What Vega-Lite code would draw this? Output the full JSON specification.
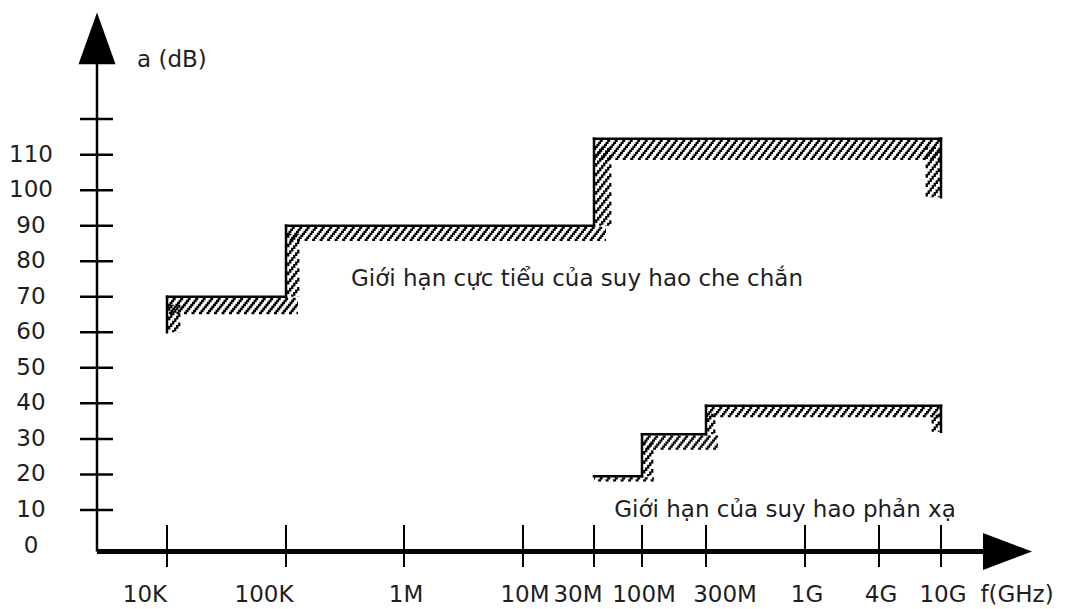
{
"$schema":"https://vega.github.io/schema/vega-lite/v6.json",
"width":935,"height":533,
"autosize":{"type":"none"},
"padding":{"left":97,"top":12.5,"right":33,"bottom":63.5},
"background":"#ffffff",
"config":{"view":{"stroke":null},"mark":{"color":"#000"},"text":{"font":"DejaVu Sans","fontSize":23,"color":"#1e1e1e"},
"style":{"hh":{"stroke":"#000","strokeWidth":2.3,"strokeDash":[3,4.5]},"hv":{"stroke":"#000","strokeWidth":2.3,"strokeDash":[3.75,5.6]}}},
"datasets":{
"seg":[
{"c":"s","x":1e4,"y":60,"x2":1e4,"y2":70},
{"c":"s","x":1e4,"y":70,"x2":1e5,"y2":70},
{"c":"s","x":1e5,"y":70,"x2":1e5,"y2":90},
{"c":"s","x":1e5,"y":90,"x2":3e7,"y2":90},
{"c":"s","x":3e7,"y":90,"x2":3e7,"y2":114.5},
{"c":"s","x":3e7,"y":114.5,"x2":1e10,"y2":114.5},
{"c":"s","x":1e10,"y":98,"x2":1e10,"y2":114.5},
{"c":"r","x":3e7,"y":19.5,"x2":1e8,"y2":19.5},
{"c":"r","x":1e8,"y":19.5,"x2":1e8,"y2":31.3},
{"c":"r","x":1e8,"y":31.3,"x2":3e8,"y2":31.3},
{"c":"r","x":3e8,"y":31.3,"x2":3e8,"y2":39.3},
{"c":"r","x":3e8,"y":39.3,"x2":1e10,"y2":39.3},
{"c":"r","x":1e10,"y":32,"x2":1e10,"y2":39.3}
],
"yt":[{"v":0,"label":"0"},{"v":10,"label":"10"},{"v":20,"label":"20"},{"v":30,"label":"30"},{"v":40,"label":"40"},{"v":50,"label":"50"},{"v":60,"label":"60"},{"v":70,"label":"70"},{"v":80,"label":"80"},{"v":90,"label":"90"},{"v":100,"label":"100"},{"v":110,"label":"110"},{"v":120,"label":""}],
"xt":[{"f":1e4,"label":"10K"},{"f":1e5,"label":"100K"},{"f":1e6,"label":"1M"},{"f":1e7,"label":"10M"},{"f":3e7,"label":"30M"},{"f":1e8,"label":"100M"},{"f":3e8,"label":"300M"},{"f":1e9,"label":"1G"},{"f":4e9,"label":"4G"},{"f":1e10,"label":"10G"}]
},
"layer":[
{"data":{"values":[{}]},"mark":{"type":"rule","strokeWidth":5,"yOffset":6},
 "encoding":{"x":{"datum":0,"type":"quantitative","scale":{"domain":[0,1e4,1e5,1e6,1e7,3e7,1e8,3e8,1e9,4e9,1e10,2e10],"range":[0,70,189,307,426,497,545,609,708,782,844,935],"nice":false,"zero":false},"axis":null},"x2":{"datum":1.9e10},"y":{"datum":0,"type":"quantitative","scale":{"domain":[0,150],"nice":false,"zero":false},"axis":null}}},
{"data":{"values":[{}]},"mark":{"type":"rule","strokeWidth":2.5,"yOffset":6},
 "encoding":{"x":{"datum":0,"type":"quantitative","axis":null},"y":{"datum":0,"type":"quantitative","axis":null},"y2":{"datum":140}}},
{"data":{"values":[{}]},"mark":{"type":"point","shape":"M0,0L-2.65,-1L-2.65,1Z","size":1369,"filled":true,"opacity":1,"strokeWidth":0,"yOffset":6},
 "encoding":{"x":{"datum":2e10,"type":"quantitative","axis":null},"y":{"datum":0,"type":"quantitative","axis":null}}},
{"data":{"values":[{}]},"mark":{"type":"point","shape":"M0,0L-1,2.8L1,2.8Z","size":1369,"filled":true,"opacity":1,"strokeWidth":0},
 "encoding":{"x":{"datum":0,"type":"quantitative","axis":null},"y":{"datum":150,"type":"quantitative","axis":null}}},
{"data":{"name":"yt"},"transform":[{"filter":"datum.v>0"}],"mark":{"type":"rule","strokeWidth":2.5,"xOffset":-17,"x2Offset":16},
 "encoding":{"x":{"datum":0,"type":"quantitative","axis":null},"x2":{"datum":0},"y":{"field":"v","type":"quantitative","axis":null}}},
{"data":{"name":"yt"},"transform":[{"filter":"datum.label!=''"}],"mark":{"type":"text","dx":-66,"align":"center","baseline":"middle"},
 "encoding":{"x":{"datum":0,"type":"quantitative","axis":null},"y":{"field":"v","type":"quantitative","axis":null},"text":{"field":"label"}}},
{"data":{"name":"xt"},"mark":{"type":"rule","strokeWidth":2,"yOffset":21.5,"y2Offset":-20.5},
 "encoding":{"x":{"field":"f","type":"quantitative","axis":null},"y":{"datum":0,"type":"quantitative","axis":null},"y2":{"datum":0}}},
{"data":{"name":"xt"},"transform":[{"filter":"datum.label=='10K'||datum.label=='100K'"}],"mark":{"type":"text","dx":-22,"dy":49,"align":"center","baseline":"middle"},
 "encoding":{"x":{"field":"f","type":"quantitative","axis":null},"y":{"datum":0,"type":"quantitative","axis":null},"text":{"field":"label"}}},
{"data":{"name":"xt"},"transform":[{"filter":"datum.label=='30M'"}],"mark":{"type":"text","dx":-16,"dy":49,"align":"center","baseline":"middle"},
 "encoding":{"x":{"field":"f","type":"quantitative","axis":null},"y":{"datum":0,"type":"quantitative","axis":null},"text":{"field":"label"}}},
{"data":{"name":"xt"},"transform":[{"filter":"datum.label=='300M'"}],"mark":{"type":"text","dx":19,"dy":49,"align":"center","baseline":"middle"},
 "encoding":{"x":{"field":"f","type":"quantitative","axis":null},"y":{"datum":0,"type":"quantitative","axis":null},"text":{"field":"label"}}},
{"data":{"name":"xt"},"transform":[{"filter":"datum.label!='10K'&&datum.label!='100K'&&datum.label!='30M'&&datum.label!='300M'"}],"mark":{"type":"text","dx":2,"dy":49,"align":"center","baseline":"middle"},
 "encoding":{"x":{"field":"f","type":"quantitative","axis":null},"y":{"datum":0,"type":"quantitative","axis":null},"text":{"field":"label"}}},
{"data":{"values":[{}]},"mark":{"type":"text","text":"f(GHz)","dx":-15,"dy":49,"align":"center","baseline":"middle"},
 "encoding":{"x":{"datum":2e10,"type":"quantitative","axis":null},"y":{"datum":0,"type":"quantitative","axis":null}}},
{"data":{"values":[{}]},"mark":{"type":"text","text":"a (dB)","dx":40,"align":"left","baseline":"alphabetic"},
 "encoding":{"x":{"datum":0,"type":"quantitative","axis":null},"y":{"datum":134.7,"type":"quantitative","axis":null}}},
{"data":{"values":[{}]},"mark":{"type":"text","text":"Giới hạn cực tiểu của suy hao che chắn","dx":173,"align":"center","baseline":"alphabetic"},
 "encoding":{"x":{"datum":1e6,"type":"quantitative","axis":null},"y":{"datum":73,"type":"quantitative","axis":null}}},
{"data":{"values":[{}]},"mark":{"type":"text","text":"Giới hạn của suy hao phản xạ","dx":-20,"align":"center","baseline":"alphabetic"},
 "encoding":{"x":{"datum":1e9,"type":"quantitative","axis":null},"y":{"datum":8,"type":"quantitative","axis":null}}},
{"data":{"name":"seg"},
 "encoding":{"x":{"field":"x","type":"quantitative","axis":null},"x2":{"field":"x2"},"y":{"field":"y","type":"quantitative","axis":null},"y2":{"field":"y2"}},
 "layer":[
 {"transform":[{"filter":"datum.y==datum.y2&&datum.x2<1e10&&(datum.c=='s'?(datum.y<80?8:7):(datum.y<25?2:7))>0"}],"mark":{"type":"rule","style":"hh","yOffset":2.25,"y2Offset":2.25,"x2Offset":12,"strokeDashOffset":1.8}},
 {"transform":[{"filter":"datum.y==datum.y2&&datum.x2<1e10&&(datum.c=='s'?(datum.y<80?8:7):(datum.y<25?2:7))>1"}],"mark":{"type":"rule","style":"hh","yOffset":4.25,"y2Offset":4.25,"x2Offset":12,"strokeDashOffset":3.4}},
 {"transform":[{"filter":"datum.y==datum.y2&&datum.x2<1e10&&(datum.c=='s'?(datum.y<80?8:7):(datum.y<25?2:7))>2"}],"mark":{"type":"rule","style":"hh","yOffset":6.25,"y2Offset":6.25,"x2Offset":12,"strokeDashOffset":5}},
 {"transform":[{"filter":"datum.y==datum.y2&&datum.x2<1e10&&(datum.c=='s'?(datum.y<80?8:7):(datum.y<25?2:7))>3"}],"mark":{"type":"rule","style":"hh","yOffset":8.25,"y2Offset":8.25,"x2Offset":12,"strokeDashOffset":6.6}},
 {"transform":[{"filter":"datum.y==datum.y2&&datum.x2<1e10&&(datum.c=='s'?(datum.y<80?8:7):(datum.y<25?2:7))>4"}],"mark":{"type":"rule","style":"hh","yOffset":10.25,"y2Offset":10.25,"x2Offset":12,"strokeDashOffset":8.2}},
 {"transform":[{"filter":"datum.y==datum.y2&&datum.x2<1e10&&(datum.c=='s'?(datum.y<80?8:7):(datum.y<25?2:7))>5"}],"mark":{"type":"rule","style":"hh","yOffset":12.25,"y2Offset":12.25,"x2Offset":12,"strokeDashOffset":9.8}},
 {"transform":[{"filter":"datum.y==datum.y2&&datum.x2<1e10&&(datum.c=='s'?(datum.y<80?8:7):(datum.y<25?2:7))>6"}],"mark":{"type":"rule","style":"hh","yOffset":14.25,"y2Offset":14.25,"x2Offset":12,"strokeDashOffset":11.4}},
 {"transform":[{"filter":"datum.y==datum.y2&&datum.x2<1e10&&(datum.c=='s'?(datum.y<80?8:7):(datum.y<25?2:7))>7"}],"mark":{"type":"rule","style":"hh","yOffset":16.25,"y2Offset":16.25,"x2Offset":12,"strokeDashOffset":13}},
 {"transform":[{"filter":"datum.y==datum.y2&&datum.x2==1e10&&(datum.c=='s'?10:5)>0"}],"mark":{"type":"rule","style":"hh","yOffset":2.25,"y2Offset":2.25,"strokeDashOffset":1.8}},
 {"transform":[{"filter":"datum.y==datum.y2&&datum.x2==1e10&&(datum.c=='s'?10:5)>1"}],"mark":{"type":"rule","style":"hh","yOffset":4.25,"y2Offset":4.25,"strokeDashOffset":3.4}},
 {"transform":[{"filter":"datum.y==datum.y2&&datum.x2==1e10&&(datum.c=='s'?10:5)>2"}],"mark":{"type":"rule","style":"hh","yOffset":6.25,"y2Offset":6.25,"strokeDashOffset":5}},
 {"transform":[{"filter":"datum.y==datum.y2&&datum.x2==1e10&&(datum.c=='s'?10:5)>3"}],"mark":{"type":"rule","style":"hh","yOffset":8.25,"y2Offset":8.25,"strokeDashOffset":6.6}},
 {"transform":[{"filter":"datum.y==datum.y2&&datum.x2==1e10&&(datum.c=='s'?10:5)>4"}],"mark":{"type":"rule","style":"hh","yOffset":10.25,"y2Offset":10.25,"strokeDashOffset":8.2}},
 {"transform":[{"filter":"datum.y==datum.y2&&datum.x2==1e10&&(datum.c=='s'?10:5)>5"}],"mark":{"type":"rule","style":"hh","yOffset":12.25,"y2Offset":12.25,"strokeDashOffset":9.8}},
 {"transform":[{"filter":"datum.y==datum.y2&&datum.x2==1e10&&(datum.c=='s'?10:5)>6"}],"mark":{"type":"rule","style":"hh","yOffset":14.25,"y2Offset":14.25,"strokeDashOffset":11.4}},
 {"transform":[{"filter":"datum.y==datum.y2&&datum.x2==1e10&&(datum.c=='s'?10:5)>7"}],"mark":{"type":"rule","style":"hh","yOffset":16.25,"y2Offset":16.25,"strokeDashOffset":13}},
 {"transform":[{"filter":"datum.y==datum.y2&&datum.x2==1e10&&(datum.c=='s'?10:5)>8"}],"mark":{"type":"rule","style":"hh","yOffset":18.25,"y2Offset":18.25,"strokeDashOffset":14.6}},
 {"transform":[{"filter":"datum.y==datum.y2&&datum.x2==1e10&&(datum.c=='s'?10:5)>9"}],"mark":{"type":"rule","style":"hh","yOffset":20.25,"y2Offset":20.25,"strokeDashOffset":16.2}},
 {"transform":[{"filter":"datum.x==datum.x2&&datum.x<1e10&&(datum.c=='s'?(datum.x==3e7?8:6):(datum.x==1e8?5:4))>0"}],"mark":{"type":"rule","style":"hv","xOffset":2.25,"x2Offset":2.25,"y2Offset":8,"strokeDashOffset":90.6875}},
 {"transform":[{"filter":"datum.x==datum.x2&&datum.x<1e10&&(datum.c=='s'?(datum.x==3e7?8:6):(datum.x==1e8?5:4))>1"}],"mark":{"type":"rule","style":"hv","xOffset":4.25,"x2Offset":4.25,"y2Offset":8,"strokeDashOffset":88.1875}},
 {"transform":[{"filter":"datum.x==datum.x2&&datum.x<1e10&&(datum.c=='s'?(datum.x==3e7?8:6):(datum.x==1e8?5:4))>2"}],"mark":{"type":"rule","style":"hv","xOffset":6.25,"x2Offset":6.25,"y2Offset":8,"strokeDashOffset":85.6875}},
 {"transform":[{"filter":"datum.x==datum.x2&&datum.x<1e10&&(datum.c=='s'?(datum.x==3e7?8:6):(datum.x==1e8?5:4))>3"}],"mark":{"type":"rule","style":"hv","xOffset":8.25,"x2Offset":8.25,"y2Offset":8,"strokeDashOffset":83.1875}},
 {"transform":[{"filter":"datum.x==datum.x2&&datum.x<1e10&&(datum.c=='s'?(datum.x==3e7?8:6):(datum.x==1e8?5:4))>4"}],"mark":{"type":"rule","style":"hv","xOffset":10.25,"x2Offset":10.25,"y2Offset":8,"strokeDashOffset":80.6875}},
 {"transform":[{"filter":"datum.x==datum.x2&&datum.x<1e10&&(datum.c=='s'?(datum.x==3e7?8:6):(datum.x==1e8?5:4))>5"}],"mark":{"type":"rule","style":"hv","xOffset":12.25,"x2Offset":12.25,"y2Offset":8,"strokeDashOffset":78.1875}},
 {"transform":[{"filter":"datum.x==datum.x2&&datum.x<1e10&&(datum.c=='s'?(datum.x==3e7?8:6):(datum.x==1e8?5:4))>6"}],"mark":{"type":"rule","style":"hv","xOffset":14.25,"x2Offset":14.25,"y2Offset":8,"strokeDashOffset":75.6875}},
 {"transform":[{"filter":"datum.x==datum.x2&&datum.x<1e10&&(datum.c=='s'?(datum.x==3e7?8:6):(datum.x==1e8?5:4))>7"}],"mark":{"type":"rule","style":"hv","xOffset":16.25,"x2Offset":16.25,"y2Offset":8,"strokeDashOffset":73.1875}},
 {"transform":[{"filter":"datum.x==datum.x2&&datum.x==1e10&&(datum.c=='s'?7:4)>0"}],"mark":{"type":"rule","style":"hv","xOffset":-2.25,"x2Offset":-2.25,"y2Offset":8,"strokeDashOffset":2.8125}},
 {"transform":[{"filter":"datum.x==datum.x2&&datum.x==1e10&&(datum.c=='s'?7:4)>1"}],"mark":{"type":"rule","style":"hv","xOffset":-4.25,"x2Offset":-4.25,"y2Offset":8,"strokeDashOffset":5.3125}},
 {"transform":[{"filter":"datum.x==datum.x2&&datum.x==1e10&&(datum.c=='s'?7:4)>2"}],"mark":{"type":"rule","style":"hv","xOffset":-6.25,"x2Offset":-6.25,"y2Offset":8,"strokeDashOffset":7.8125}},
 {"transform":[{"filter":"datum.x==datum.x2&&datum.x==1e10&&(datum.c=='s'?7:4)>3"}],"mark":{"type":"rule","style":"hv","xOffset":-8.25,"x2Offset":-8.25,"y2Offset":8,"strokeDashOffset":10.3125}},
 {"transform":[{"filter":"datum.x==datum.x2&&datum.x==1e10&&(datum.c=='s'?7:4)>4"}],"mark":{"type":"rule","style":"hv","xOffset":-10.25,"x2Offset":-10.25,"y2Offset":8,"strokeDashOffset":12.8125}},
 {"transform":[{"filter":"datum.x==datum.x2&&datum.x==1e10&&(datum.c=='s'?7:4)>5"}],"mark":{"type":"rule","style":"hv","xOffset":-12.25,"x2Offset":-12.25,"y2Offset":8,"strokeDashOffset":15.3125}},
 {"transform":[{"filter":"datum.x==datum.x2&&datum.x==1e10&&(datum.c=='s'?7:4)>6"}],"mark":{"type":"rule","style":"hv","xOffset":-14.25,"x2Offset":-14.25,"y2Offset":8,"strokeDashOffset":17.8125}},
 {"mark":{"type":"rule","strokeWidth":2.5,"strokeCap":"square"}}
 ]}
]
}
